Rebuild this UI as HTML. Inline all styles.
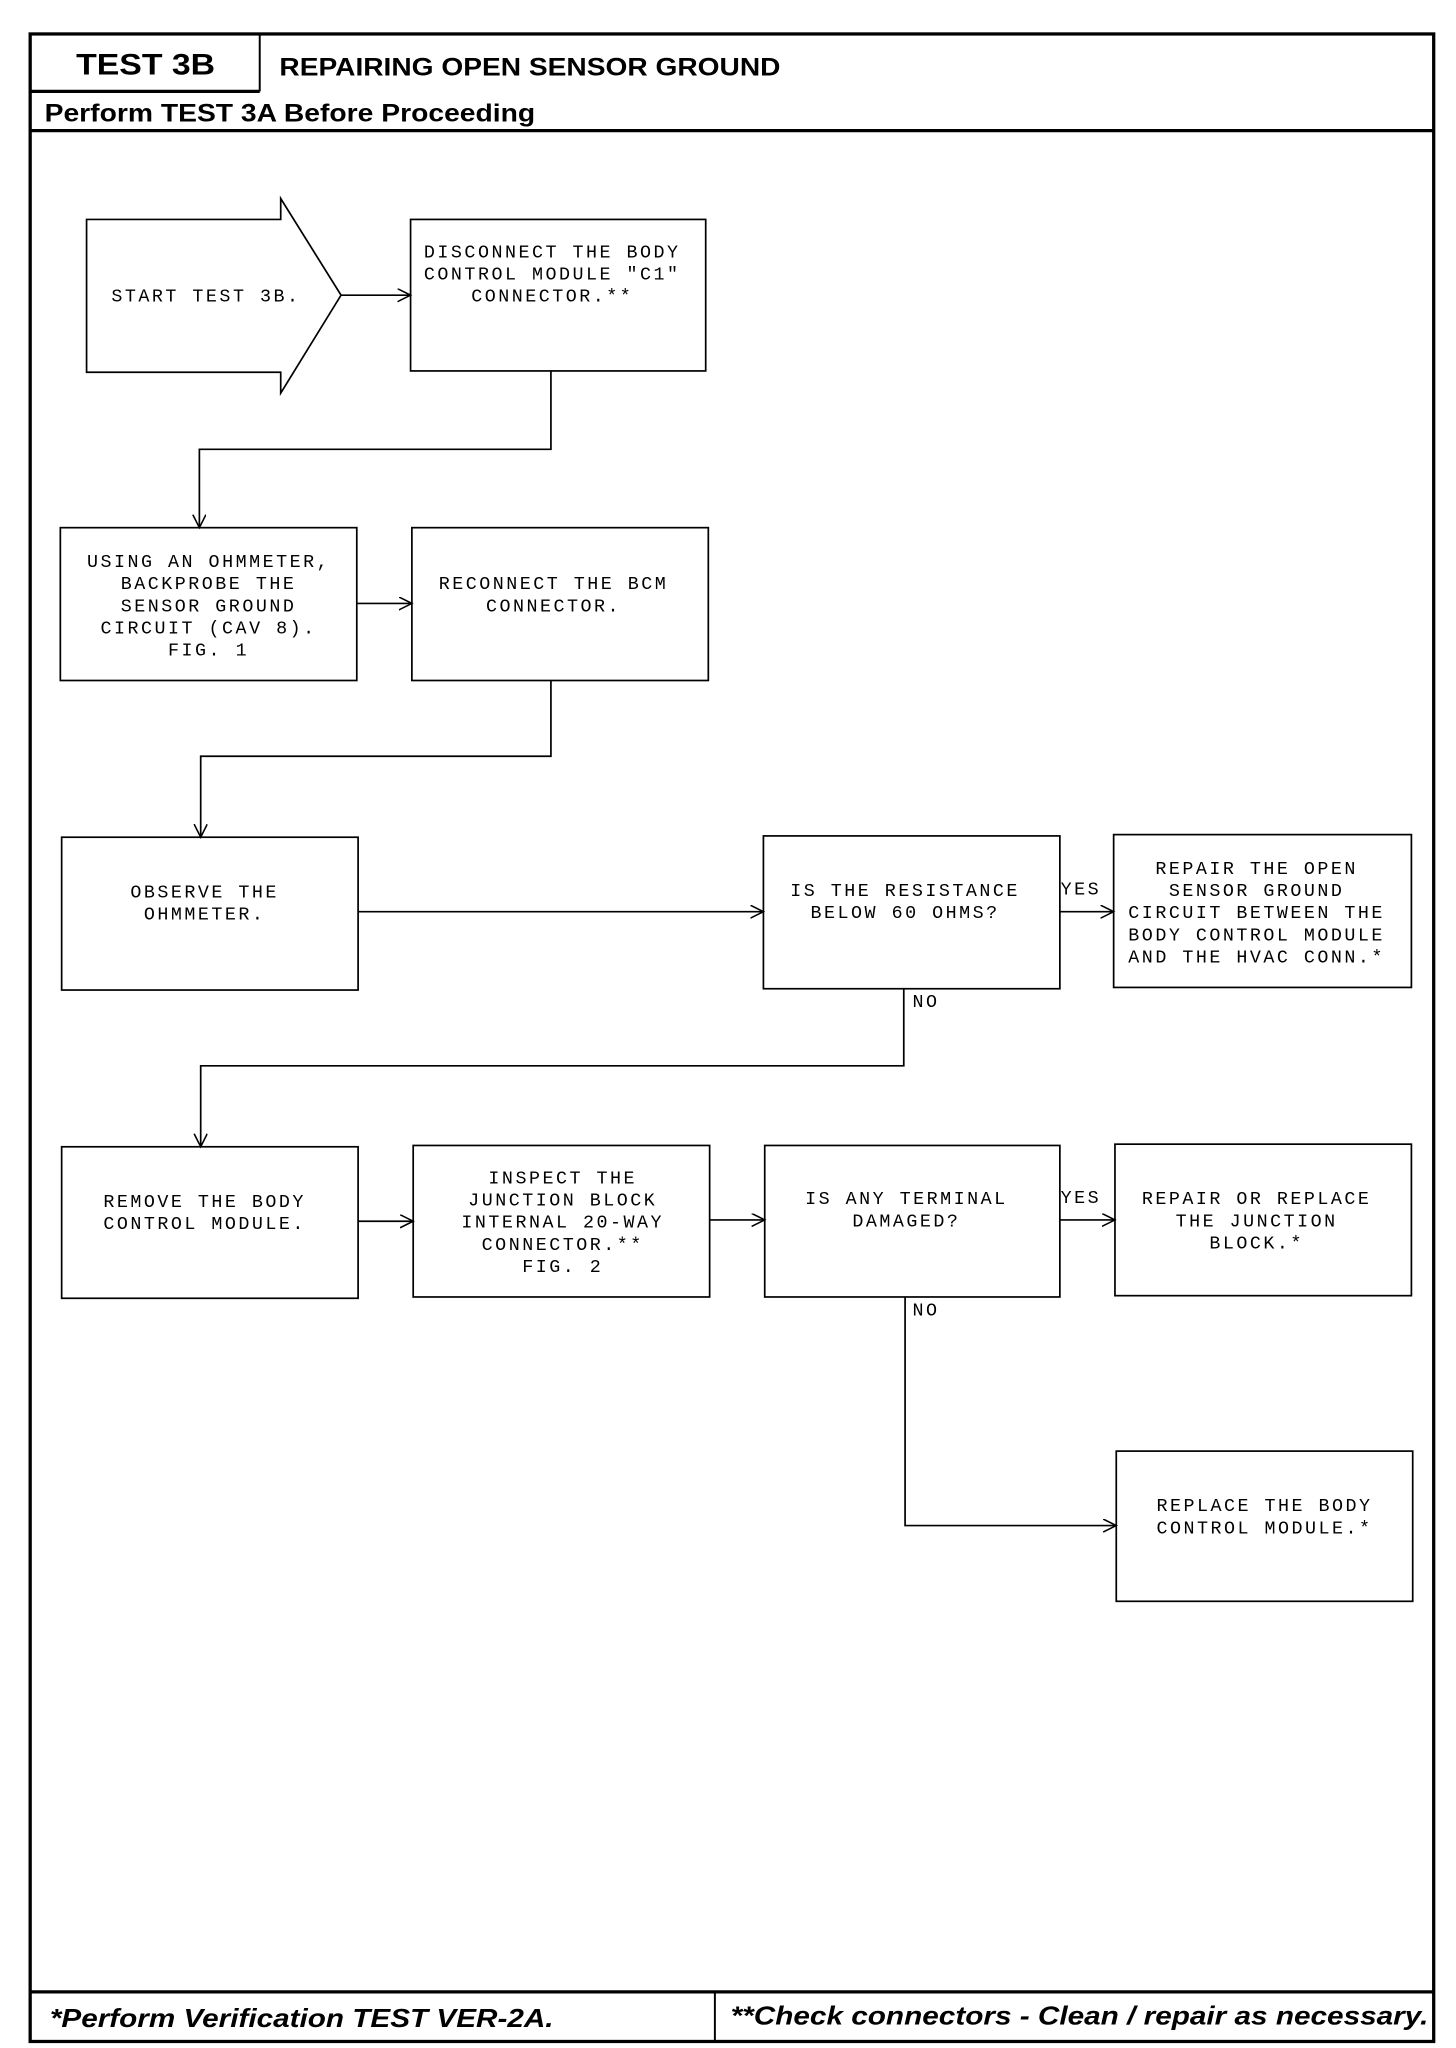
<!DOCTYPE html>
<html><head><meta charset="utf-8"><style>
html,body{margin:0;padding:0;background:#fff;}
svg{display:block;}
.m{font-family:"Liberation Mono","DejaVu Sans Mono",monospace;font-size:14px;letter-spacing:1.9px;fill:#000;text-anchor:middle;}
.h{font-family:"Liberation Sans",Arial,sans-serif;font-weight:bold;fill:#000;}
.hi{font-family:"Liberation Sans",Arial,sans-serif;font-weight:bold;font-style:italic;fill:#000;}
</style></head><body>
<svg width="1456" height="2048" viewBox="0 0 1110 1568" preserveAspectRatio="none" xmlns="http://www.w3.org/2000/svg">
<defs><marker id="a" markerWidth="12" markerHeight="12" refX="10" refY="5" orient="auto" markerUnits="userSpaceOnUse"><path d="M0,0 L10,5 L0,10" fill="none" stroke="#000" stroke-width="1.2"/></marker></defs>
<rect width="1110" height="1568" fill="#fff"/>
<!-- frame -->
<rect x="23" y="26" width="1070" height="1537" fill="none" stroke="#000" stroke-width="2.5"/>
<line x1="23" y1="70" x2="198" y2="70" stroke="#000" stroke-width="2.5"/>
<line x1="198" y1="26" x2="198" y2="70" stroke="#000" stroke-width="1.5"/>
<line x1="23" y1="100" x2="1093" y2="100" stroke="#000" stroke-width="2.5"/>
<line x1="23" y1="1525" x2="1093" y2="1525" stroke="#000" stroke-width="2.5"/>
<line x1="545" y1="1525" x2="545" y2="1563" stroke="#000" stroke-width="1.5"/>
<text class="h" x="58" y="57" font-size="23" textLength="106" lengthAdjust="spacingAndGlyphs">TEST 3B</text>
<text class="h" x="213" y="58" font-size="19" textLength="382" lengthAdjust="spacingAndGlyphs">REPAIRING OPEN SENSOR GROUND</text>
<text class="h" x="34" y="93" font-size="19" textLength="374" lengthAdjust="spacingAndGlyphs">Perform TEST 3A Before Proceeding</text>
<text class="hi" x="38" y="1552" font-size="20" textLength="384" lengthAdjust="spacingAndGlyphs">*Perform Verification TEST VER-2A.</text>
<text class="hi" x="557" y="1550" font-size="20" textLength="532" lengthAdjust="spacingAndGlyphs">**Check connectors - Clean / repair as necessary.</text>
<g fill="none" stroke="#000" stroke-width="1.3">
<polygon points="66,168 214,168 214,152 260,226 214,301 214,285 66,285"/>
<rect x="313" y="168" width="225" height="116"/>
<rect x="46" y="404" width="226" height="117"/>
<rect x="314" y="404" width="226" height="117"/>
<rect x="47" y="641" width="226" height="117"/>
<rect x="582" y="640" width="226" height="117"/>
<rect x="849" y="639" width="227" height="117"/>
<rect x="47" y="878" width="226" height="116"/>
<rect x="315" y="877" width="226" height="116"/>
<rect x="583" y="877" width="225" height="116"/>
<rect x="850" y="876" width="226" height="116"/>
<rect x="851" y="1111" width="226" height="115"/>
<line x1="260" y1="226" x2="313" y2="226" marker-end="url(#a)"/>
<polyline points="420,284 420,344 152,344 152,404" marker-end="url(#a)"/>
<line x1="272" y1="462" x2="314" y2="462" marker-end="url(#a)"/>
<polyline points="420,521 420,579 153,579 153,641" marker-end="url(#a)"/>
<line x1="273" y1="698" x2="582" y2="698" marker-end="url(#a)"/>
<line x1="808" y1="698" x2="849" y2="698" marker-end="url(#a)"/>
<polyline points="689,757 689,816 153,816 153,878" marker-end="url(#a)"/>
<line x1="273" y1="935" x2="315" y2="935" marker-end="url(#a)"/>
<line x1="541" y1="934" x2="583" y2="934" marker-end="url(#a)"/>
<line x1="808" y1="934" x2="850" y2="934" marker-end="url(#a)"/>
<polyline points="690,993 690,1168 851,1168" marker-end="url(#a)"/>
</g>
<text class="m" x="157" y="231">START TEST 3B.</text>
<text class="m" x="421" y="197">DISCONNECT THE BODY</text>
<text class="m" x="421" y="214">CONTROL MODULE "C1"</text>
<text class="m" x="421" y="231">CONNECTOR.**</text>
<text class="m" x="159" y="434">USING AN OHMMETER,</text>
<text class="m" x="159" y="451">BACKPROBE THE</text>
<text class="m" x="159" y="468">SENSOR GROUND</text>
<text class="m" x="159" y="485">CIRCUIT (CAV 8).</text>
<text class="m" x="159" y="502">FIG. 1</text>
<text class="m" x="422" y="451">RECONNECT THE BCM</text>
<text class="m" x="422" y="468">CONNECTOR.</text>
<text class="m" x="156" y="687">OBSERVE THE</text>
<text class="m" x="156" y="704">OHMMETER.</text>
<text class="m" x="690" y="686">IS THE RESISTANCE</text>
<text class="m" x="690" y="703">BELOW 60 OHMS?</text>
<text class="m" x="824" y="685">YES</text>
<text class="m" x="958" y="669">REPAIR THE OPEN</text>
<text class="m" x="958" y="686">SENSOR GROUND</text>
<text class="m" x="958" y="703">CIRCUIT BETWEEN THE</text>
<text class="m" x="958" y="720">BODY CONTROL MODULE</text>
<text class="m" x="958" y="737">AND THE HVAC CONN.*</text>
<text class="m" x="706" y="771">NO</text>
<text class="m" x="156" y="924">REMOVE THE BODY</text>
<text class="m" x="156" y="941">CONTROL MODULE.</text>
<text class="m" x="429" y="906">INSPECT THE</text>
<text class="m" x="429" y="923">JUNCTION BLOCK</text>
<text class="m" x="429" y="940">INTERNAL 20-WAY</text>
<text class="m" x="429" y="957">CONNECTOR.**</text>
<text class="m" x="429" y="974">FIG. 2</text>
<text class="m" x="691" y="922">IS ANY TERMINAL</text>
<text class="m" x="691" y="939">DAMAGED?</text>
<text class="m" x="824" y="921">YES</text>
<text class="m" x="958" y="922">REPAIR OR REPLACE</text>
<text class="m" x="958" y="939">THE JUNCTION</text>
<text class="m" x="958" y="956">BLOCK.*</text>
<text class="m" x="706" y="1007">NO</text>
<text class="m" x="964" y="1157">REPLACE THE BODY</text>
<text class="m" x="964" y="1174">CONTROL MODULE.*</text>
</svg>
</body></html>
